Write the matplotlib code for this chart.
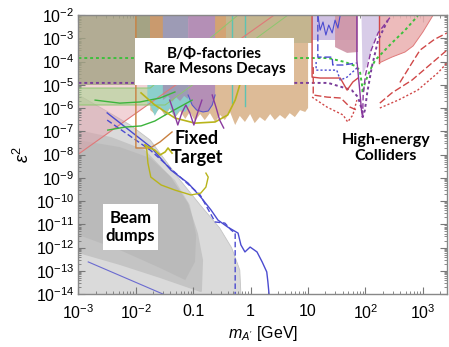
import numpy as np
import matplotlib
matplotlib.use("Agg")
import matplotlib.pyplot as plt
from matplotlib.patches import Rectangle
from matplotlib.ticker import LogLocator, NullFormatter

plt.rcParams['font.family'] = ['Liberation Sans', 'DejaVu Sans']
plt.rcParams['mathtext.fontset'] = 'custom'
plt.rcParams['mathtext.rm'] = 'Liberation Sans'
plt.rcParams['mathtext.it'] = 'Liberation Sans:italic'

# ---------------- data (log10 of mass [GeV], log10 of eps^2) ----------------
# Beam dumps (grey)
bd_outer_m = [-3.00, -2.54, -2.10, -1.75, -1.49, -1.23, -0.88, -0.54, -0.33, -0.19, -0.17, -3.00]
bd_outer_e = [-5.44, -6.09, -6.73, -7.38, -8.24, -9.10, -10.17, -11.16, -12.02, -12.97, -14.0, -14.0]
bd_mid_m = [-3.00, -2.43, -1.84, -1.39, -1.09, -0.92, -0.83, -0.85, -0.88, -1.58, -2.28, -3.00]
bd_mid_e = [-6.95, -7.25, -7.81, -8.97, -10.09, -11.38, -12.54, -13.9, -13.91, -13.31, -12.75, -12.24]
bd_in_m = [-3.00, -2.28, -1.75, -1.32, -1.06, -0.95, -0.97, -1.14, -1.58, -2.28, -3.00]
bd_in_e = [-7.38, -7.68, -8.15, -9.10, -10.17, -11.46, -12.62, -13.40, -12.88, -12.11, -11.46]

# electron g-2 (pink)
ae_m = [-3.0, 0.41, -3.0]
ae_e = [-7.98, -2.0, -2.0]
# muon g-2 band (green)
amu_m = [-3.0, -1.75, -0.22, 0.65, -1.49, -3.0]
amu_e = [-5.14, -5.14, -2.0, -2.0, -5.87, -5.87]
# olive top-left
olive_m = [-3.0, -2.0, -2.0, -3.0]
olive_e = [-2.0, -2.0, -5.0, -5.0]

# rare meson decays / B factories (tan, spiky lower edge)
tan_m = [-1.75, -1.67, -1.58, -1.49, -1.41, -1.32, -1.23, -1.14, -1.06, -0.97, -0.88,
         -0.80, -0.71, -0.62, -0.53, -0.45, -0.36, -0.27, -0.19, -0.10, -0.01, 0.07,
         0.16, 0.25, 0.34, 0.42, 0.51, 0.60, 0.68, 0.77, 0.86, 0.95, 1.00]
tan_e = [-6.09, -6.26, -6.00, -6.34, -6.04, -6.43, -6.13, -6.47, -6.17, -6.56, -6.26,
         -6.52, -6.22, -6.60, -6.30, -6.52, -6.17, -6.73, -6.34, -6.60, -6.26, -6.65,
         -6.39, -6.56, -6.26, -6.52, -6.30, -6.47, -6.22, -6.39, -6.09, -6.17, -6.00]
teal_m = [-1.80, -1.75, -1.67, -1.58, -1.49, -1.41, -1.32, -1.23, -1.14, -1.06, -1.02]
teal_e = [-5.87, -5.87, -6.34, -5.91, -6.26, -6.00, -6.39, -6.09, -6.17, -5.87, -5.66]
gp_m = [-1.53, -1.44, -1.37, -1.30, -1.23, -1.16, -1.09]
gp_e = [-5.66, -5.48, -5.74, -5.53, -5.70, -5.48, -5.61]
pu_m = [-1.09, -1.02, -0.94, -0.83, -0.74, -0.67, -0.62]
pu_e = [-5.44, -5.87, -6.09, -6.17, -6.13, -5.87, -5.44]
strip_lo = [-2.00, -1.75, -0.74, -0.43]
strip_hi = [-1.75, -1.53, -0.43, 1.07]
strip_bottom = [-5.0, -5.0, -5.0, -3.2]
strip_colors = ['#a4a384', '#c99a6e', '#d3a373', '#c4b58f']

# projections / lines
bsol_m = [-2.50, -1.74, -1.39, -1.09, -0.87, -0.69, -0.57, -0.40, -0.22, -0.17, -0.10,
          -0.01, 0.11, 0.20, 0.28, 0.30, 0.32]
bsol_e = [-6.21, -7.68, -8.67, -9.23, -9.83, -10.39, -10.82, -11.12, -11.38, -11.89,
          -12.19, -11.98, -12.19, -12.62, -13.05, -13.48, -14.0]
bdash_m = [-2.50, -1.75, -1.27, -0.88, -0.62, -0.45, -0.34, -0.27, -0.27]
bdash_e = [-6.52, -7.81, -8.88, -9.74, -10.90, -10.95, -11.25, -11.38, -14.0]
blow_m = [-2.83, -1.53]
blow_e = [-12.62, -14.0]
e141_m = [-2.00, -2.00, -1.75, -1.58, -1.37]
e141_e = [-2.0, -7.72, -7.72, -7.46, -7.03]
ftloop_m = [-1.84, -1.81, -1.79, -1.74, -1.56, -1.32, -1.04, -0.87, -0.78, -0.74, -0.78]
ftloop_e = [-7.59, -7.81, -8.37, -8.97, -9.31, -9.53, -9.74, -9.66, -9.40, -8.97, -8.80]
ftsq_m = [-1.84, -1.75, -1.67, -1.58, -1.49, -1.44, -1.37]
ftsq_e = [-7.59, -7.72, -7.81, -8.02, -7.89, -7.72, -7.94]
gc1_m = [-2.49, -2.19, -1.91, -1.67, -1.49, -1.27, -1.02]
gc1_e = [-6.95, -6.82, -6.77, -6.56, -6.30, -6.00, -5.66]
gc2_m = [-2.71, -2.28, -1.93, -1.58, -1.32]
gc2_e = [-5.66, -5.79, -5.74, -5.57, -5.31]
yc_m = [-1.91, -1.67, -1.32, -0.97, -0.62, -0.40, -0.27, -0.19]
yc_e = [-5.35, -5.87, -6.43, -6.65, -6.60, -6.30, -5.66, -5.01]
pw_m = [-1.41, -1.34, -1.27, -1.20, -1.13, -1.06, -0.99, -0.92, -0.85]
pw_e = [-5.66, -6.17, -6.73, -6.21, -5.87, -6.21, -6.73, -6.17, -5.66]
pd_m = [-0.67, -0.60, -0.54, -0.47]
pd_e = [-5.44, -6.00, -6.52, -6.86]
gdot_m = [-3.0, 1.35, 1.64, 1.82, 1.90, 1.94, 1.95, 1.99, 2.08, 2.17, 2.46, 2.69, 2.91]
gdot_e = [-3.85, -3.85, -4.02, -4.19, -4.37, -5.01, -5.35, -4.92, -4.37, -3.94, -3.20, -2.65, -2.04]
pdot_m = [-3.0, 1.35, 1.59, 1.76, 1.87, 1.94, 1.95, 1.99, 2.03, 2.11, 2.22, 2.39]
pdot_e = [-4.92, -4.92, -5.10, -5.23, -5.53, -6.09, -6.39, -6.09, -5.35, -4.24, -3.08, -2.22]

# high-energy colliders
lav_m = [1.07, 1.87, 1.87, 1.07]
lav_e = [-2.0, -2.0, -3.08, -3.08]
lav2_m = [1.93, 2.46, 2.22, 2.10, 2.03, 1.95]
lav2_e = [-2.0, -2.0, -2.77, -3.51, -4.10, -4.60]
rose_m = [1.47, 1.87, 1.87, 1.68, 1.47]
rose_e = [-2.0, -2.0, -3.59, -3.63, -3.38]
pinkR_m = [2.24, 2.24, 2.46, 2.69, 2.83, 3.00, 3.18]
pinkR_e = [-2.0, -4.06, -3.81, -3.59, -3.33, -2.73, -2.0]
rsol_m = [1.07, 1.07, 1.21, 1.56, 1.68, 1.78, 1.87]
rsol_e = [-2.0, -4.67, -4.71, -4.71, -5.23, -4.88, -4.71]
rdash_m = [1.09, 1.09, 1.33, 1.57, 1.73, 1.85]
rdash_e = [-4.24, -5.44, -5.53, -5.57, -5.96, -6.09]
rdot_m = [1.07, 1.33, 1.61, 1.69, 1.78, 1.85]
rdot_e = [-5.53, -5.96, -6.30, -6.60, -6.30, -5.66]
bdr_m = [1.17, 1.17, 1.42, 1.43, 1.61, 1.85]
bdr_e = [-2.0, -3.81, -3.81, -4.15, -4.15, -4.06]
bdot_m = [1.14, 1.14, 1.50, 1.56, 1.68, 1.85]
bdot_e = [-4.02, -4.37, -4.37, -4.80, -4.67, -4.28]
bjag_m = [1.17, 1.21, 1.26, 1.31, 1.36, 1.42, 1.47, 1.52, 1.56]
bjag_e = [-2.0, -2.65, -2.30, -2.86, -2.43, -2.77, -2.22, -2.56, -2.0]
rdR_m = [2.25, 2.46, 2.81, 3.16, 3.42]
rdR_e = [-5.79, -5.35, -4.80, -4.06, -3.51]
roR_m = [2.25, 2.57, 2.91, 3.26, 3.42]
roR_e = [-6.00, -5.66, -5.23, -4.49, -4.06]
rd2_m = [2.60, 2.80, 2.95, 3.20, 3.42]
rd2_e = [-4.90, -4.10, -3.51, -3.05, -2.77]
zsol_m = [1.85, 1.85, 1.90, 1.93, 1.95]
zsol_e = [-2.0, -3.94, -5.23, -6.09, -6.39]
zdash_m = [1.95, 1.96, 2.00, 2.10, 2.22, 2.46]
zdash_e = [-6.39, -5.44, -4.58, -3.51, -2.77, -2.0]

xtick_vals = [-3, -2, -1, 0, 1, 2, 3]
xtick_labels = ['$10^{-3}$', '$10^{-2}$', '0.1', '1', '10', '$10^{2}$', '$10^{3}$']
ytick_vals = list(range(-14, -1))

# ---------------- figure ----------------
fig = plt.figure(figsize=(4.49, 3.47), dpi=100)
ax = fig.add_axes([0.1748, 0.1527, 0.8207, 0.8040])
ax.set_xscale('log')
ax.set_yscale('log')
ax.set_xlim(1e-3, 10 ** 3.42)
ax.set_ylim(1e-14, 1e-2)


def P(m, e):
    return 10 ** np.asarray(m, float), 10 ** np.asarray(e, float)


def fill(m, e, color, alpha=1.0, z=1, ec='none', lw=0):
    x, y = P(m, e)
    ax.fill(x, y, facecolor=color, alpha=alpha, zorder=z, edgecolor=ec, lw=lw)


def line(m, e, color, ls='-', lw=1.0, z=5, alpha=1.0):
    x, y = P(m, e)
    ax.plot(x, y, color=color, ls=ls, lw=lw, zorder=z, alpha=alpha)


# grey beam-dump regions
fill(bd_outer_m, bd_outer_e, '#dadada', 1.0, 1)
fill(bd_mid_m, bd_mid_e, '#c4c4c4', 1.0, 1.1)
fill(bd_in_m, bd_in_e, '#a9a9a9', 0.35, 1.2)
line(bd_outer_m[:-1], bd_outer_e[:-1], '#c4c4c4', lw=0.6, z=1.3)
# g-2 regions
fill(ae_m, ae_e, '#e39ea8', 0.45, 1.5)
fill(amu_m, amu_e, '#a6d68e', 0.55, 1.6)
fill(olive_m, olive_e, '#a3a384', 0.8, 1.7)
# meson regions
fill(tan_m[:1] + tan_m + [1.00], [-3.2] + tan_e + [-3.2], '#ddbb97', 1.0, 2)
fill([-1.80] + teal_m + [-1.02], [-5.0] + teal_e + [-5.0], '#8ccfcc', 1.0, 2.1)
for a, b, lo, c in zip(strip_lo, strip_hi, strip_bottom, strip_colors):
    fill([a, b, b, a], [-2, -2, lo, lo], c, 1.0, 2.2)
fill([-1.53] + gp_m + [-1.09], [-2.0] + gp_e + [-2.0], '#9d9bb5', 1.0, 2.3)
fill([-1.09] + pu_m + [-0.62], [-2.0] + pu_e + [-2.0], '#b48fb6', 1.0, 2.3)
line(pu_m, pu_e, '#5a55c8', lw=0.8, z=2.4)
line([-0.33, -0.33], [-2.0, -5.8], '#5cc3b3', lw=1.0, z=2.5)
line([-0.10, -0.10], [-2.0, -5.9], '#5cc3b3', lw=1.0, z=2.5)
# boundary lines of g-2 bands
line([-3.0, 0.41], [-7.98, -2.0], '#e07878', lw=0.8, z=2.6)
line([-3.0, -1.75, -0.22], [-5.14, -5.14, -2.0], '#8cc76e', lw=0.7, z=2.6)
line([-3.0, -1.49, 0.65], [-5.87, -5.87, -2.0], '#8cc76e', lw=0.7, z=2.6)

# collider regions
fill(lav_m, lav_e, '#cfc0e2', 1.0, 2)
fill(lav2_m, lav2_e, '#d8cce8', 1.0, 2)
fill(rose_m, rose_e, '#cf95a6', 0.9, 2.1)
fill(pinkR_m, pinkR_e, '#eab0b0', 0.85, 2)
line(pinkR_m[:2], pinkR_e[:2], '#d04848', lw=1.0)
line(pinkR_m[1:], pinkR_e[1:], '#e07a7a', lw=0.7)

# lines
line(bsol_m, bsol_e, '#4b4bd0', lw=1.0)
line(bdash_m, bdash_e, '#4b4bd0', ls=(0, (4, 2)), lw=1.0)
line(blow_m, blow_e, '#6a6ad0', lw=0.8)
line(e141_m, e141_e, '#c98040', lw=1.0)
line(ftloop_m, ftloop_e, '#b8b41a', lw=1.0)
line(ftsq_m, ftsq_e, '#b8b41a', lw=1.2)
line(gc1_m, gc1_e, '#3cb43c', lw=1.0)
line(gc2_m, gc2_e, '#3cb43c', lw=1.0)
line(yc_m, yc_e, '#b8b41a', lw=1.2)
line(pw_m, pw_e, '#8a3a9e', lw=1.0)
line(pd_m, pd_e, '#8a3a9e', lw=1.0)
line(gdot_m, gdot_e, '#3cc03c', ls=(0, (1.5, 1.5)), lw=1.4)
line(pdot_m, pdot_e, '#7a3d9a', ls=(0, (1.5, 1.5)), lw=1.4)
line(rsol_m, rsol_e, '#d04848', lw=1.0)
line(rdash_m, rdash_e, '#d04848', ls=(0, (5, 2)), lw=1.0)
line(rdot_m, rdot_e, '#d04848', ls=(0, (1.5, 1.5)), lw=1.0)
line(bdr_m, bdr_e, '#4b4bd0', ls=(0, (5, 2)), lw=1.0)
line(bdot_m, bdot_e, '#4b4bd0', ls=(0, (1.5, 1.5)), lw=1.0)
line(bjag_m, bjag_e, '#4b4bd0', lw=0.8)
line(rdR_m, rdR_e, '#d04848', ls=(0, (5, 2)), lw=1.0)
line(roR_m, roR_e, '#d04848', ls=(0, (1.5, 1.5)), lw=1.0)
line(rd2_m, rd2_e, '#d04848', ls=(0, (5, 2)), lw=1.0)
line(zsol_m, zsol_e, '#8a3a9e', lw=1.0)
line(zdash_m, zdash_e, '#8a3a9e', ls=(0, (4, 2)), lw=1.0)

# ---------------- labels ----------------
lab = dict(family=['Lato', 'DejaVu Sans'], fontweight='bold',
           ha='center', va='center', zorder=10, linespacing=1.15)
ax.add_patch(Rectangle((0.153, 0.749), 0.4315, 0.168, transform=ax.transAxes,
                       facecolor='white', edgecolor='none', zorder=9))
ax.text(0.369, 0.833, 'B/Φ-factories\nRare Mesons Decays', transform=ax.transAxes,
        fontsize=11, **lab)
ax.add_patch(Rectangle((0.0665, 0.158), 0.149, 0.165, transform=ax.transAxes,
                       facecolor='white', edgecolor='none', zorder=9))
ax.text(0.141, 0.240, 'Beam\ndumps', transform=ax.transAxes, fontsize=12, **lab)
ax.text(0.3216, 0.523, 'Fixed\nTarget', transform=ax.transAxes, fontsize=13, **lab)
ax.text(0.834, 0.523, 'High-energy\nColliders', transform=ax.transAxes, fontsize=11.5, **lab)

# ---------------- axes styling ----------------
ax.set_xticks([10.0 ** v for v in xtick_vals])
ax.set_xticklabels(xtick_labels)
ax.set_yticks([10.0 ** v for v in ytick_vals])
ax.set_yticklabels(['$10^{%d}$' % v for v in ytick_vals])
ax.xaxis.set_minor_locator(LogLocator(base=10, subs=np.arange(2, 10), numticks=30))
ax.yaxis.set_minor_locator(LogLocator(base=10, subs=np.arange(2, 10), numticks=30))
ax.xaxis.set_minor_formatter(NullFormatter())
ax.yaxis.set_minor_formatter(NullFormatter())
ax.tick_params(which='both', direction='in', top=True, right=True, color='#777777',
               labelsize=11.5)
ax.tick_params(axis='x', which='major', pad=7)
ax.tick_params(axis='y', which='major', pad=3)
ax.tick_params(which='major', length=5, width=0.8)
ax.tick_params(which='minor', length=2.5, width=0.6)
for s in ax.spines.values():
    s.set_color('#888888')
    s.set_linewidth(1.0)
    s.set_zorder(20)
ax.set_xlabel("$m_{A'}$ [GeV]", fontsize=11.5, labelpad=1)
ax.set_ylabel('$ε^2$', fontsize=13, labelpad=2)

fig.savefig('out.png', dpi=100)
